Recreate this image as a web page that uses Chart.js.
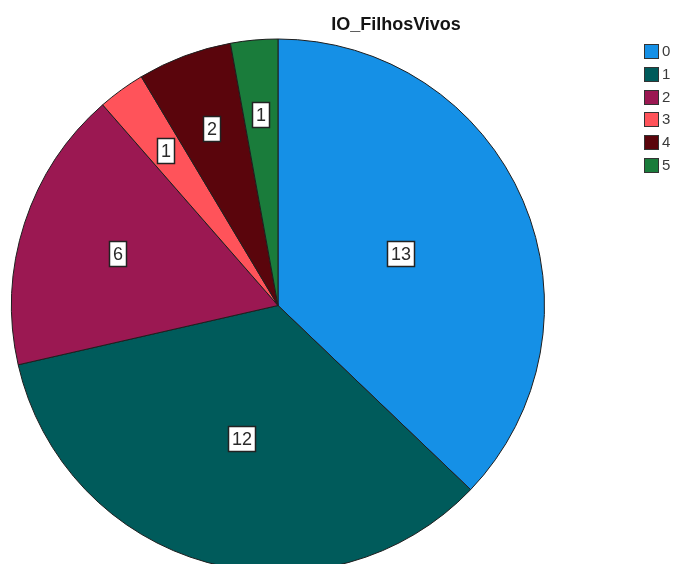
<!DOCTYPE html>
<html>
<head>
<meta charset="utf-8">
<script src="https://cdn.jsdelivr.net/npm/chart.js@4/dist/chart.umd.min.js"></script>
<style>
  html, body { margin: 0; padding: 0; background: #fff; overflow: hidden; }
  #wrap { position: relative; width: 675px; height: 564px; }
  #title {
    position: absolute; left: 296px; top: 13px; width: 200px;
    text-align: center; font: bold 18px "Liberation Sans", Arial, sans-serif;
    line-height: 22px; color: #141414;
  }
  .item { position: absolute; left: 644px; height: 16px; }
  .item .box {
    position: absolute; left: 0; top: 0; width: 13px; height: 13px;
    border: 1px solid #333;
  }
  .item .txt {
    position: absolute; left: 18px; top: -2px;
    font: 15px "Liberation Sans", Arial, sans-serif; line-height: 18px; color: #3a3a3a;
  }
</style>
</head>
<body>
<div id="wrap">
  <canvas id="myChart" width="675" height="564"></canvas>
  <div id="title">IO_FilhosVivos</div>
  <div id="legend"></div>
</div>
<script>
// numero de filhos vivos
const categories = ['0', '1', '2', '3', '4', '5'];
const counts = [13, 12, 6, 1, 2, 1];
const sliceColors = ['#1590e6', '#005b5b', '#9b1852', '#ff535a', '#5a050c', '#1a7c3b'];

// legenda em html
const legend = document.getElementById('legend');
categories.forEach((c, i) => {
    const el = document.createElement('div');
    el.className = 'item';
    el.style.top = (44 + i * 22.8) + 'px';
    el.innerHTML = `<div class="box" style="background:${sliceColors[i]}"></div><div class="txt">${c}</div>`;
    legend.appendChild(el);
});

// caixinhas brancas com o valor de cada fatia
// fatias pequenas levam a caixa mais pra fora
const valueBoxes = {
    id: 'valueBoxes',
    afterDatasetsDraw(chart) {
        const ctx = chart.ctx;
        const meta = chart.getDatasetMeta(0);
        const data = chart.data.datasets[0].data;
        const total = data.reduce((a, b) => a + b, 0);
        ctx.save();
        ctx.font = '18px "Liberation Sans", Arial, sans-serif';
        ctx.textAlign = 'center';
        ctx.textBaseline = 'middle';
        meta.data.forEach((arc, i) => {
            const p = arc.getProps(['x', 'y', 'startAngle', 'endAngle', 'outerRadius'], true);
            const mid = (p.startAngle + p.endAngle) / 2;
            const share = data[i] / total;
            const frac = Math.min(0.72, 0.5 + 0.25 * (1 - share / 0.37));
            const cx = p.x + Math.cos(mid) * p.outerRadius * frac;
            const cy = p.y + Math.sin(mid) * p.outerRadius * frac;
            const txt = String(data[i]);
            const w = Math.round(ctx.measureText(txt).width + 7);
            const h = 25;
            const bx = Math.round(cx - w / 2) + 0.5;
            const by = Math.round(cy - h / 2) + 0.5;
            ctx.fillStyle = '#fff';
            ctx.fillRect(bx, by, w, h);
            ctx.strokeStyle = '#222';
            ctx.lineWidth = 1.5;
            ctx.strokeRect(bx, by, w, h);
            ctx.fillStyle = '#2a2a2a';
            ctx.fillText(txt, bx + w / 2, by + h / 2 + 1);
        });
        ctx.restore();
    }
};

new Chart('myChart', {
    type: 'pie',
    data: {
        labels: categories,
        datasets: [{
            data: counts,
            backgroundColor: sliceColors,
            borderColor: '#1e1e1e',
            borderWidth: 1,
            clip: false
        }]
    },
    options: {
        responsive: false,
        animation: false,
        events: [],
        radius: 266.5,
        layout: { padding: { left: 0, right: 119, top: 47, bottom: 0 } },
        plugins: {
            legend: { display: false },
            title: { display: false },
            tooltip: { enabled: false }
        }
    },
    plugins: [valueBoxes]
});
</script>
</body>
</html>
